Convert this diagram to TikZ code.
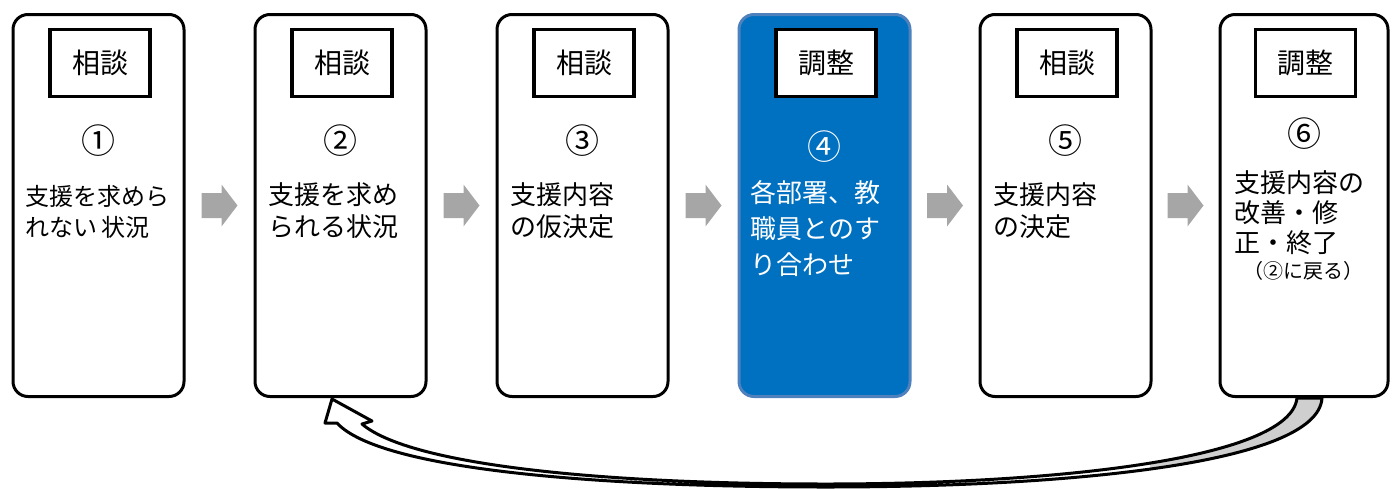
\documentclass[tikz,border=0pt]{standalone}
\usepackage{fontspec}
\setmainfont{Noto Sans CJK JP}
\usetikzlibrary{calc}
\definecolor{boxblue}{HTML}{0070C0}
\definecolor{boxblueedge}{HTML}{4F81BD}
\definecolor{flowgray}{HTML}{A6A6A6}
\definecolor{bandgray}{HTML}{CFCFCF}
\begin{document}
\begin{tikzpicture}[x=0.5pt,y=-0.5pt,
  stage/.style={draw=black,line width=1.5pt,rounded corners=7.5pt,fill=white,
    minimum width=85.5pt,minimum height=191pt,inner sep=0pt},
  bluestage/.style={stage,fill=boxblue,draw=boxblueedge},
  tag/.style={draw=black,line width=1.7pt,fill=white,minimum width=50pt,
    minimum height=33.5pt,inner sep=0pt,font=\fontsize{14}{16}\selectfont},
  num/.style={font=\fontsize{17}{19}\selectfont,inner sep=0pt},
  body/.style={align=left,anchor=north west,inner sep=0pt,
    font=\fontsize{13}{16}\selectfont},
]
\useasboundingbox (0,0) rectangle (1392,488);

% stage boxes
\node[stage] (b1) at (98.5,205.5) {};
\node[stage] (b2) at (340.5,205.5) {};
\node[stage] (b3) at (582.5,205.5) {};
\node[bluestage] (b4) at (824.5,205.5) {};
\node[stage] (b5) at (1065.5,205.5) {};
\node[stage,minimum width=84pt] (b6) at (1304,205.5) {};

% tags
\node[tag] (g1) at ($(b1.north)+(1.5,50)$) {相談};
\node[tag] (g2) at ($(b2.north)+(1.5,50)$) {相談};
\node[tag] (g3) at ($(b3.north)+(1.5,50)$) {相談};
\node[tag] (g4) at ($(b4.north)+(1.5,50)$) {調整};
\node[tag] (g5) at ($(b5.north)+(1.5,50)$) {相談};
\node[tag] (g6) at ($(b6.north)+(1.5,50)$) {調整};

% numbers
\node[num] (n1) at ($(b1.north)+(0,127.5)$) {①};
\node[num] (n2) at ($(b2.north)+(0,127.5)$) {②};
\node[num] (n3) at ($(b3.north)+(0,127.5)$) {③};
\node[num,text=white] (n4) at ($(b4.north)+(0,133.5)$) {④};
\node[num] (n5) at ($(b5.north)+(0,127.5)$) {⑤};
\node[num] (n6) at ($(b6.north)+(0,120.5)$) {⑥};

% body texts
\node[body,font=\fontsize{12}{15.5}\selectfont] (t1) at ($(b1.north west)+(14,171.5)$) {支援を求めら\\れない\hspace{2pt}状況};
\node[body] (t2) at ($(b2.north west)+(15,169.5)$) {支援を求め\\られる状況};
\node[body] (t3) at ($(b3.north west)+(15,169.5)$) {支援内容\\の仮決定};
\node[body,text=white,font=\fontsize{13}{18}\selectfont] (t4) at ($(b4.north west)+(13,167.5)$) {各部署、教\\職員とのす\\り合わせ};
\node[body] (t5) at ($(b5.north west)+(15,169.5)$) {支援内容\\の決定};
\node[body,font=\fontsize{13}{15}\selectfont] (t6) at ($(b6.north west)+(16,157)$) {支援内容の\\改善・修\\正・終了};
\node[inner sep=0pt,font=\fontsize{10}{12}\selectfont] (r6) at ($(b6.north)+(-1,257.5)$) {（②に戻る）};

% gray flow arrows
\foreach \a/\b in {b1/b2,b2/b3,b3/b4,b4/b5,b5/b6}{
  \coordinate (m) at ($(\a.east)!0.5!(\b.west)$);
  \fill[flowgray] ($(m)+(-18,-12.5)$) -- ($(m)+(2,-12.5)$) -- ($(m)+(2,-21)$)
    -- ($(m)+(18,0)$) -- ($(m)+(2,21)$) -- ($(m)+(2,12.5)$)
    -- ($(m)+(-18,12.5)$) -- cycle;
}

% curved return arrow from 6 to 2
\coordinate (ur) at ($(b6.south)+(-7,0)$);
\coordinate (lr) at ($(b6.south)+(18,0)$);
\coordinate (um) at (826,484);
\coordinate (lm) at (826,487);
\coordinate (ul) at ($(b2.south)+(21.5,26)$);
\coordinate (rw) at ($(b2.south)+(31.5,23)$);
\coordinate (tip) at ($(b2.south)+(-8.5,1)$);
\coordinate (lw) at ($(b2.south)+(-15.5,25)$);
\coordinate (ll) at ($(b2.south)+(-3.5,25)$);
\newcommand\bandshape[1]{%
  \path[#1] (ur) .. controls ($(ur)+(-7,62)$) and (1050,484) .. (um)
    .. controls (600,484) and (410,465) .. (ul) -- (rw) -- (tip) -- (lw) -- (ll)
    .. controls (380,470) and (600,487) .. (lm)
    .. controls (1060,487) and ($(lr)+(-4,67)$) .. (lr) -- cycle;}
\bandshape{fill=white}
\begin{scope}
  \clip (1150,380) rectangle (1392,488);
  \bandshape{fill=bandgray}
\end{scope}
\bandshape{draw=black,line width=1.5pt,line join=round}
\end{tikzpicture}
\end{document}
